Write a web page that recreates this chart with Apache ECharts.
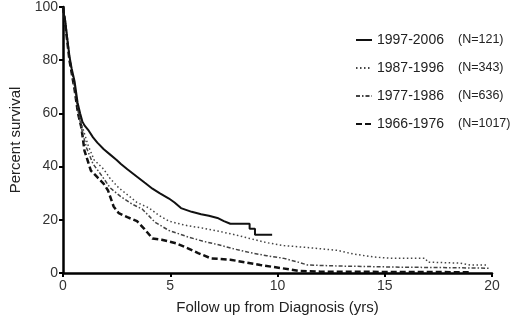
<!DOCTYPE html>
<html>
<head>
<meta charset="utf-8">
<script src="https://cdn.jsdelivr.net/npm/echarts@6/dist/echarts.min.js"></script>
<style>
  html, body { margin: 0; padding: 0; background: #fff; }
  #chart { width: 520px; height: 320px; }
</style>
</head>
<body>
<div id="chart"></div>
<script>
// 各时期生存曲线 [年, 百分比]
const groups = ['1997-2006', '1987-1996', '1977-1986', '1966-1976']
const counts = [121, 343, 636, 1017]

const surv9706 = [
  [0, 100], [0.05, 97], [0.1, 95], [0.2, 88], [0.3, 81.5], [0.4, 77], [0.54, 72], [0.68, 64],
  [0.8, 60], [0.9, 57], [1.0, 55.5], [1.2, 53.5], [1.4, 51], [1.6, 49], [1.9, 46.5],
  [2.2, 44.5], [2.5, 42.5], [2.7, 41], [3.0, 39], [3.45, 36.2], [3.8, 34], [4.17, 31.7],
  [4.5, 30], [4.94, 28], [5.2, 26.5], [5.5, 24.4], [6.0, 23], [6.44, 22.1], [6.8, 21.5],
  [7.2, 20.7], [7.5, 19.5], [7.8, 18.5], [8.7, 18.5], [8.7, 16.6], [8.95, 16.6],
  [8.95, 14.4], [9.75, 14.4]
]
const surv8796 = [
  [0, 100], [0.05, 97], [0.1, 95], [0.3, 81], [0.54, 71], [0.7, 62], [0.9, 55], [1.17, 48],
  [1.45, 42.5], [1.9, 39], [2.2, 35.5], [2.6, 32], [3.1, 28.8], [3.45, 26.5], [4.0, 24.5],
  [4.5, 21.5], [4.94, 19.5], [5.26, 18.8], [5.85, 17.7], [6.44, 17], [7.2, 15.8], [8.0, 14.4],
  [8.7, 13], [9.5, 11.4], [10.3, 10.3], [11.5, 9.5], [12.8, 8.5], [13.5, 7.2], [14.5, 6],
  [15.4, 5.5], [16.9, 5.5], [17.0, 4.1], [18.5, 3.7], [19.0, 3], [19.8, 3]
]
const surv7786 = [
  [0, 100], [0.05, 97], [0.1, 95], [0.3, 81], [0.54, 70], [0.7, 61], [0.9, 53], [1.1, 47],
  [1.4, 41], [1.77, 37], [2.2, 32], [2.68, 28.8], [3.2, 26], [3.7, 24], [4.3, 19], [4.94, 16],
  [5.85, 13.5], [6.5, 12], [7.2, 10.7], [8.0, 9], [8.7, 7.7], [9.5, 6.5], [10.3, 5.5],
  [11.0, 4], [11.4, 3], [13, 2.6], [15.7, 2.2], [18, 2], [19.9, 1.8]
]
const surv6676 = [
  [0, 100], [0.05, 97], [0.1, 94], [0.3, 80], [0.54, 69], [0.7, 60], [0.86, 54.6], [1.0, 46],
  [1.3, 38.5], [1.6, 36], [1.9, 33.5], [2.1, 31], [2.36, 25], [2.6, 22.5], [3.0, 21],
  [3.45, 19.5], [3.8, 16.5], [4.17, 13], [4.6, 12.5], [5.26, 11.2], [5.85, 9.2], [6.3, 7.5],
  [6.9, 5.5], [7.8, 5], [8.5, 4], [9.2, 3], [10.2, 1.8], [11, 0.8], [12, 0.5], [19, 0.3]
]

const xTicks = [0, 5, 10, 15, 20]
const yTicks = [0, 20, 40, 60, 80, 100]

const chart = echarts.init(document.getElementById('chart'))

const lineStyles = [
  { color: '#111', width: 2, type: 'solid' },
  { color: '#444', width: 1.5, type: [1.5, 2.5] },
  { color: '#444', width: 1.5, type: [4, 2, 1.5, 2] },
  { color: '#111', width: 2.5, type: [6, 3] }
]
const dataList = [surv9706, surv8796, surv7786, surv6676]

const option = {
  animation: false,
  textStyle: { fontFamily: 'Liberation Sans, Arial, sans-serif' },
  grid: { left: 51, right: 28, top: 7, bottom: 42 },
  legend: {
    orient: 'vertical',
    left: 350,
    top: 28,
    itemWidth: 16,
    itemHeight: 10,
    itemGap: 14,
    data: groups,
    itemStyle: { opacity: 0 },
    formatter: function (name) {
      const i = groups.indexOf(name)
      return '{a|' + name + '}{b|(N=' + counts[i] + ')}'
    },
    textStyle: {
      rich: {
        a: { fontSize: 14, color: '#222', width: 81 },
        b: { fontSize: 12.5, color: '#222' }
      }
    }
  },
  xAxis: {
    type: 'value',
    min: 0,
    max: 20,
    interval: 5,
    name: 'Follow up from Diagnosis (yrs)',
    nameLocation: 'middle',
    nameGap: 27,
    nameTextStyle: { fontSize: 15, color: '#222' },
    axisLine: { lineStyle: { color: '#000', width: 2.5 } },
    axisTick: { length: 4, lineStyle: { color: '#000', width: 2 } },
    axisLabel: { fontSize: 14, color: '#333', margin: 6 },
    splitLine: { show: false }
  },
  yAxis: {
    type: 'value',
    min: 0,
    max: 100,
    interval: 20,
    name: 'Percent survival',
    nameLocation: 'middle',
    nameGap: 40,
    nameTextStyle: { fontSize: 15, color: '#222' },
    axisLine: { show: true, lineStyle: { color: '#000', width: 2.5 } },
    axisTick: { show: true, length: 4, lineStyle: { color: '#000', width: 2 } },
    axisLabel: { fontSize: 14, color: '#333', margin: 5 },
    splitLine: { show: false }
  },
  series: groups.map(function (g, i) {
    return {
      name: g,
      type: 'line',
      data: dataList[i],
      symbol: 'none',
      lineStyle: lineStyles[i],
      itemStyle: { color: lineStyles[i].color },
      z: 4 - i
    }
  })
}

chart.setOption(option)
</script>
</body>
</html>
